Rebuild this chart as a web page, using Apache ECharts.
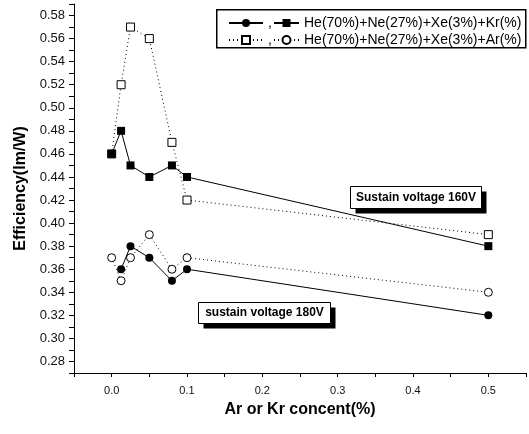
<!DOCTYPE html>
<html>
<head>
<meta charset="utf-8">
<script src="https://cdn.jsdelivr.net/npm/echarts@6/dist/echarts.min.js"></script>
<style>html,body{margin:0;padding:0;background:#fff}#c{width:529px;height:434px}</style>
</head>
<body>
<div id="c"></div>
<script>
// Data
const concKr = [0, 0.0125, 0.025, 0.05, 0.08, 0.1, 0.5];
const effKr160 = [0.46, 0.48, 0.45, 0.44, 0.45, 0.44, 0.38];
const concAr = [0, 0.0125, 0.025, 0.05, 0.08, 0.1, 0.5];
const effAr160 = [0.46, 0.52, 0.57, 0.56, 0.47, 0.42, 0.39];
const concKr180 = [0.0125, 0.025, 0.05, 0.08, 0.1, 0.5];
const effKr180 = [0.36, 0.38, 0.37, 0.35, 0.36, 0.32];
const concAr180 = [0, 0.0125, 0.025, 0.05, 0.08, 0.1, 0.5];
const effAr180 = [0.37, 0.35, 0.37, 0.39, 0.36, 0.37, 0.34];

const nameKr = 'He(70%)+Ne(27%)+Xe(3%)+Kr(%)';
const nameAr = 'He(70%)+Ne(27%)+Xe(3%)+Ar(%)';
const nameKr180 = 'Kr 180V';
const nameAr160 = 'Ar 160V';
const xTitle = 'Ar or Kr concent(%)';
const yTitle = 'Efficiency(lm/W)';
const note160 = 'Sustain voltage 160V';
const note180 = 'sustain voltage 180V';

const zip = (xs, ys) => xs.map((x, i) => [x, ys[i]]);
const FONT = 'Liberation Sans, Arial, sans-serif';

const solid = { color: '#000', width: 1, type: 'solid' };
const dotted = { color: '#000', width: 1, type: [1, 3] };

function noteBox(x, y, w, h, text) {
  return {
    type: 'group', left: x, top: y,
    children: [
      { type: 'rect', shape: { x: 5, y: 5, width: w, height: h }, style: { fill: '#000' } },
      { type: 'rect', shape: { x: 0, y: 0, width: w, height: h }, style: { fill: '#fff', stroke: '#000', lineWidth: 1 } },
      { type: 'text', x: w / 2, y: h / 2, style: { text: text, fill: '#000', font: 'bold 12px ' + FONT, align: 'center', verticalAlign: 'middle' } }
    ]
  };
}

const chart = echarts.init(document.getElementById('c'), null, { renderer: 'canvas' });
chart.setOption({
  backgroundColor: '#fff',
  animation: false,
  grid: { left: 74, top: 4, width: 455.5, height: 369, containLabel: false },
  xAxis: {
    type: 'value', min: -0.05, max: 0.55, interval: 0.05,
    name: xTitle, nameLocation: 'middle', nameGap: 29,
    nameTextStyle: { fontFamily: FONT, fontWeight: 'bold', fontSize: 16, color: '#000' },
    axisLine: { show: true, onZero: false, lineStyle: { color: '#000', width: 1 } },
    axisTick: { show: true, inside: false, length: 4, lineStyle: { color: '#000' } },
    axisLabel: {
      margin: 12, fontFamily: FONT, fontSize: 11, color: '#111',
      formatter: v => (Math.round(v * 100) % 10 === 0 ? v.toFixed(1) : '')
    },
    splitLine: { show: false }
  },
  yAxis: {
    type: 'value', min: 0.27, max: 0.59, interval: 0.01,
    name: yTitle, nameLocation: 'middle', nameGap: 37, nameRotate: 90,
    nameTextStyle: { fontFamily: FONT, fontWeight: 'bold', fontSize: 16, color: '#000' },
    axisLine: { show: true, onZero: false, lineStyle: { color: '#000', width: 1 } },
    axisTick: { show: true, inside: false, length: 5, lineStyle: { color: '#000' } },
    axisLabel: {
      margin: 9, fontFamily: FONT, fontSize: 13, color: '#111',
      formatter: v => (Math.round(v * 100) % 2 === 0 ? v.toFixed(2) : '')
    },
    splitLine: { show: false }
  },
  legend: [
    {
      left: 223, top: 11, orient: 'vertical',
      itemWidth: 34, itemHeight: 10, itemGap: 3,
      data: [nameKr180, nameAr160],
      formatter: () => ',',
      textStyle: { fontFamily: FONT, fontSize: 14, lineHeight: 14, color: '#000' },
      selectedMode: false
    },
    {
      left: 268, top: 11, orient: 'vertical',
      itemWidth: 25, itemHeight: 10, itemGap: 3,
      data: [nameKr, nameAr],
      textStyle: { fontFamily: FONT, fontSize: 14, lineHeight: 14, color: '#000' },
      selectedMode: false
    }
  ],
  graphic: [
    { type: 'rect', left: 216, top: 9, z: -1, shape: { width: 309, height: 38 }, style: { fill: '#fff', stroke: '#000', lineWidth: 1.5 } },
    noteBox(350, 186, 131, 22, note160),
    noteBox(198, 302, 132, 21, note180)
  ],
  series: [
    {
      name: nameAr160, type: 'line', data: zip(concAr, effAr160),
      symbol: 'rect', symbolSize: 8, lineStyle: dotted,
      itemStyle: { color: '#fff', borderColor: '#000', borderWidth: 1 }, z: 2
    },
    {
      name: nameAr, type: 'line', data: zip(concAr180, effAr180),
      symbol: 'circle', symbolSize: 8, lineStyle: dotted,
      itemStyle: { color: '#fff', borderColor: '#000', borderWidth: 1 }, z: 2
    },
    {
      name: nameKr, type: 'line', data: zip(concKr, effKr160),
      symbol: 'rect', symbolSize: 8, lineStyle: solid,
      itemStyle: { color: '#000', borderColor: '#000', borderWidth: 0 }, z: 3
    },
    {
      name: nameKr180, type: 'line', data: zip(concKr180, effKr180),
      symbol: 'circle', symbolSize: 8, lineStyle: solid,
      itemStyle: { color: '#000', borderColor: '#000', borderWidth: 0 }, z: 3
    }
  ]
});
</script>
</body>
</html>
